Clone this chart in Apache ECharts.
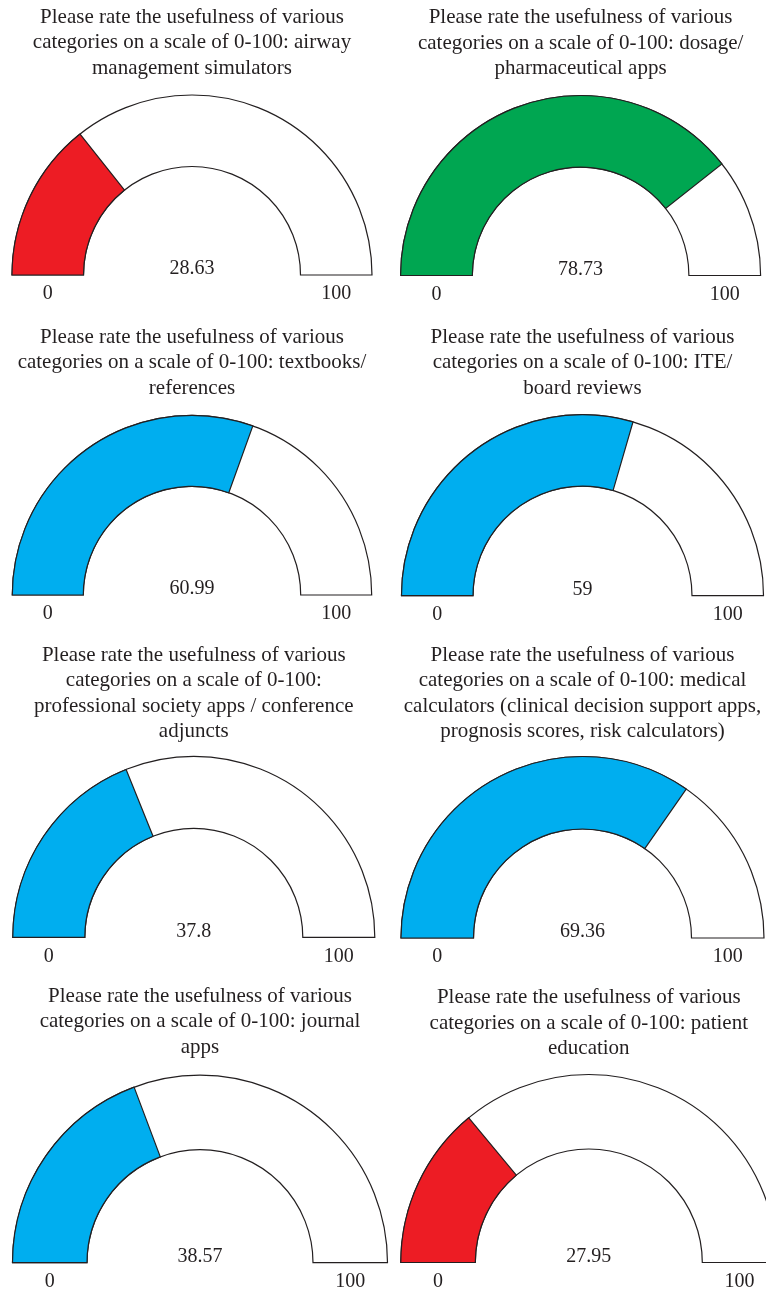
<!DOCTYPE html>
<html>
<head>
<meta charset="utf-8">
<script src="https://cdn.jsdelivr.net/npm/echarts@6/dist/echarts.min.js"></script>
<style>
  html, body { margin: 0; padding: 0; background: #ffffff; }
  #chart { width: 766px; height: 1292px; }
</style>
</head>
<body>
<div id="chart"></div>
<script>
// Survey question shown above each gauge
const titles = [
  'Please rate the usefulness of various\ncategories on a scale of 0-100: airway\nmanagement simulators',
  'Please rate the usefulness of various\ncategories on a scale of 0-100: dosage/\npharmaceutical apps',
  'Please rate the usefulness of various\ncategories on a scale of 0-100: textbooks/\nreferences',
  'Please rate the usefulness of various\ncategories on a scale of 0-100: ITE/\nboard reviews',
  'Please rate the usefulness of various\ncategories on a scale of 0-100:\nprofessional society apps / conference\nadjuncts',
  'Please rate the usefulness of various\ncategories on a scale of 0-100: medical\ncalculators (clinical decision support apps,\nprognosis scores, risk calculators)',
  'Please rate the usefulness of various\ncategories on a scale of 0-100: journal\napps',
  'Please rate the usefulness of various\ncategories on a scale of 0-100: patient\neducation'
];

// Mean usefulness score per category
const scores = [28.63, 78.73, 60.99, 59, 37.8, 69.36, 38.57, 27.95];

// Fill colour of each score band
const fills = ['#ed1c24', '#00a651', '#00aeef', '#00aeef', '#00aeef', '#00aeef', '#00aeef', '#ed1c24'];

// Scale end points
const scaleMin = 0;
const scaleMax = 100;

// Panel geometry: gauge centre, outer radius, band width, title top
const panels = [
  { cx: 192,   cy: 275,    r: 180,   w: 71.5, top: 4.5 },
  { cx: 580.6, cy: 275.5,  r: 180,   w: 71.7, top: 5 },
  { cx: 192,   cy: 595,    r: 179.7, w: 71,   top: 324.5 },
  { cx: 582.5, cy: 595.7,  r: 181,   w: 71.5, top: 324.5 },
  { cx: 193.8, cy: 937.3,  r: 181,   w: 72,   top: 642.5 },
  { cx: 582.5, cy: 938,    r: 181.5, w: 72.5, top: 642.5 },
  { cx: 200,   cy: 1262.7, r: 187.5, w: 74.5, top: 983.5 },
  { cx: 588.8, cy: 1262.5, r: 188,   w: 74.5, top: 985 }
];

const ink = '#231f20';
const font = "'Liberation Serif', 'Times New Roman', serif";
const titleSize = 21;
const labelSize = 20;

const title = [];
const series = [];

panels.forEach((p, i) => {
  title.push({
    text: titles[i],
    left: p.cx,
    top: p.top,
    textAlign: 'center',
    padding: 0,
    textStyle: {
      fontFamily: font,
      fontSize: titleSize,
      fontWeight: 'normal',
      color: ink,
      lineHeight: 25.4
    }
  });

  const base = {
    type: 'gauge',
    center: [p.cx, p.cy],
    radius: p.r,
    startAngle: 180,
    endAngle: 0,
    min: scaleMin,
    max: scaleMax,
    splitNumber: 1,
    silent: true,
    animation: false,
    pointer: { show: false },
    anchor: { show: false },
    axisLine: { show: false },
    axisTick: { show: false },
    splitLine: { show: false, length: 0, distance: 0 },
    title: { show: false }
  };

  // Full-scale track (white band with outline) carrying the 0 / 100 labels
  series.push(Object.assign({}, base, {
    z: 2,
    progress: {
      show: true, overlap: true, roundCap: false, width: p.w,
      itemStyle: { color: '#ffffff', borderColor: ink, borderWidth: 1.2 }
    },
    axisLabel: {
      show: true,
      distance: 0,
      padding: [38, 0, 0, 0],
      formatter: '{t|{value}}',
      rich: {
        t: { width: p.w, align: 'center', fontSize: labelSize, fontFamily: font, color: ink }
      }
    },
    detail: { show: false },
    data: [{ value: scaleMax }]
  }));

  // Score band with value label
  series.push(Object.assign({}, base, {
    z: 3,
    progress: {
      show: true, overlap: true, roundCap: false, width: p.w,
      itemStyle: { color: fills[i], borderColor: ink, borderWidth: 1.2 }
    },
    axisLabel: { show: false },
    detail: {
      show: true,
      valueAnimation: false,
      offsetCenter: [0, -6],
      formatter: '{value}',
      fontFamily: font,
      fontSize: labelSize,
      fontWeight: 'normal',
      color: ink
    },
    data: [{ value: scores[i] }]
  }));
});

const chart = echarts.init(document.getElementById('chart'), null, { renderer: 'canvas' });
chart.setOption({
  backgroundColor: '#ffffff',
  animation: false,
  title: title,
  series: series
});
</script>
</body>
</html>
